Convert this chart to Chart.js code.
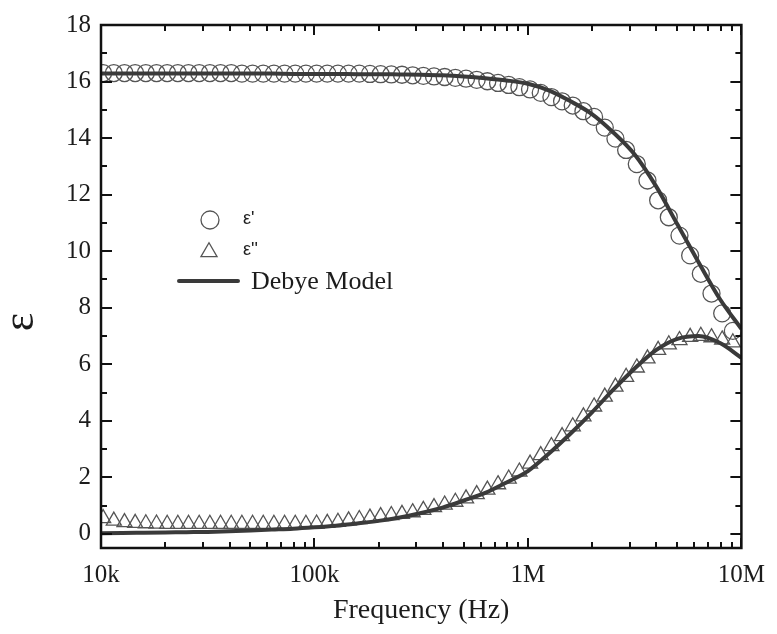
<!DOCTYPE html>
<html>
<head>
<meta charset="utf-8">
<title>Dielectric permittivity - Debye fit</title>
<script src="https://cdn.jsdelivr.net/npm/chart.js@4.4.1/dist/chart.umd.min.js"></script>
<style>
    html, body { margin: 0; padding: 0; background: #ffffff; }
    #wrap { width: 777px; height: 634px; }
</style>
</head>
<body>
<div id="wrap"><canvas id="chart" width="777" height="634"></canvas></div>
<script>
// measured points (20 per decade)
const freqHz = [
    10233, 11482, 12882, 14454, 16218, 18197, 20417, 22909, 25704, 28840,
    32359, 36308, 40738, 45709, 51286, 57544, 64565, 72444, 81283, 91201,
    102329, 114815, 128825, 144544, 162181, 181970, 204174, 229087, 257040, 288403,
    323594, 363078, 407380, 457088, 512861, 575440, 645654, 724436, 812831, 912011,
    1023293, 1148154, 1288250, 1445440, 1621810, 1819701, 2041738, 2290868, 2570396, 2884032,
    3235937, 3630781, 4073803, 4570882, 5128614, 5754399, 6456542, 7244360, 8128305, 9120108
];

const epsReal = [
    16.3, 16.3, 16.3, 16.3, 16.3, 16.3, 16.3, 16.3, 16.3, 16.3,
    16.3, 16.3, 16.3, 16.28, 16.28, 16.28, 16.28, 16.28, 16.28, 16.28,
    16.28, 16.28, 16.28, 16.28, 16.28, 16.27, 16.26, 16.25, 16.24, 16.22,
    16.2, 16.18, 16.16, 16.13, 16.1, 16.06, 16.01, 15.95, 15.88, 15.8,
    15.72, 15.6, 15.45, 15.3, 15.15, 14.95, 14.75, 14.37, 13.98, 13.58,
    13.08, 12.5, 11.8, 11.2, 10.55, 9.85, 9.2, 8.5, 7.8, 7.18
];

const epsImag = [
    0.55, 0.46, 0.41, 0.38, 0.37, 0.36, 0.35, 0.35, 0.35, 0.35,
    0.35, 0.35, 0.35, 0.35, 0.35, 0.35, 0.35, 0.35, 0.35, 0.35,
    0.36, 0.38, 0.42, 0.47, 0.52, 0.57, 0.62, 0.66, 0.7, 0.76,
    0.84, 0.94, 1.03, 1.13, 1.25, 1.4, 1.56, 1.75, 1.95, 2.2,
    2.48, 2.78, 3.1, 3.45, 3.8, 4.15, 4.5, 4.85, 5.2, 5.55,
    5.88, 6.2, 6.5, 6.7, 6.85, 6.96, 7.0, 6.95, 6.87, 6.77
];

// Debye model curve (10 per decade)
const modelFreqHz = [
    10000, 12589, 15849, 19953, 25119, 31623, 39811, 50119, 63096, 79433,
    100000, 125893, 158489, 199526, 251189, 316228, 398107, 501187, 630957, 794328,
    1000000, 1258925, 1584893, 1995262, 2511886, 3162278, 3981072, 5011872, 6309573, 7943282,
    10000000
];

const modelReal = [
    16.28, 16.28, 16.28, 16.28, 16.28, 16.28, 16.28, 16.28, 16.28, 16.27,
    16.27, 16.27, 16.26, 16.26, 16.25, 16.24, 16.22, 16.18, 16.12, 16.04,
    15.92, 15.68, 15.3, 14.85, 14.2, 13.42, 12.3, 10.95, 9.6, 8.3,
    7.25
];

const modelImag = [
    0.02, 0.03, 0.04, 0.05, 0.06, 0.07, 0.09, 0.12, 0.15, 0.18,
    0.23, 0.29, 0.37, 0.46, 0.58, 0.74, 0.93, 1.18, 1.45, 1.82,
    2.22, 2.85, 3.55, 4.3, 5.1, 5.85, 6.5, 6.9, 7.0, 6.75,
    6.23
];

const xTickValues = [1e4, 1e5, 1e6, 1e7];
const xTickLabels = ["10k", "100k", "1M", "10M"];
const xMinorFactors = [2, 3, 4, 5, 6, 7, 8, 9];
const yTickValues = [0, 2, 4, 6, 8, 10, 12, 14, 16, 18];
const yMinorTicks = [1, 3, 5, 7, 9, 11, 13, 15, 17];

const serif = "'Liberation Serif', 'Times New Roman', serif";
const inkColor = "#1c1c1c";
const markerColor = "#555555";
const modelColor = "#3a3a3a";

function toPoints(xs, ys) {
    return xs.map((x, i) => ({ x: x, y: ys[i] }));
}

// inward ticks on all four sides + box frame
const frameAndTicks = {
    id: "frameAndTicks",
    afterDatasetsDraw(chart) {
        const { ctx, chartArea: a, scales: { x, y } } = chart;
        ctx.save();
        ctx.strokeStyle = "#111111";
        ctx.lineWidth = 2;
        ctx.beginPath();

        const xTick = (value, len) => {
            const px = Math.round(x.getPixelForValue(value));
            ctx.moveTo(px, a.bottom);
            ctx.lineTo(px, a.bottom - len);
            ctx.moveTo(px, a.top);
            ctx.lineTo(px, a.top + len);
        };
        const yTick = (value, len) => {
            const py = Math.round(y.getPixelForValue(value));
            ctx.moveTo(a.left, py);
            ctx.lineTo(a.left + len, py);
            ctx.moveTo(a.right, py);
            ctx.lineTo(a.right - len, py);
        };

        xTickValues.forEach((v) => xTick(v, 10));
        xTickValues.slice(0, -1).forEach((decade) => {
            xMinorFactors.forEach((f) => xTick(decade * f, 6));
        });
        yTickValues.forEach((v) => yTick(v, 11));
        yMinorTicks.forEach((v) => yTick(v, 6));
        ctx.stroke();

        ctx.lineWidth = 2.5;
        ctx.strokeRect(a.left, a.top, a.right - a.left, a.bottom - a.top);
        ctx.restore();
    }
};

// legend placed inside plot, and the rotated epsilon axis title
const annotations = {
    id: "annotations",
    afterDraw(chart) {
        const { ctx } = chart;
        ctx.save();

        ctx.strokeStyle = markerColor;
        ctx.lineWidth = 1.3;
        ctx.beginPath();
        ctx.arc(210, 220, 9, 0, Math.PI * 2);
        ctx.stroke();

        ctx.beginPath();
        const r = 9.3;
        ctx.moveTo(209, 252 - r);
        ctx.lineTo(209 + r * Math.sin(2 * Math.PI / 3), 252 + r / 2);
        ctx.lineTo(209 - r * Math.sin(2 * Math.PI / 3), 252 + r / 2);
        ctx.closePath();
        ctx.stroke();

        ctx.strokeStyle = modelColor;
        ctx.lineWidth = 4;
        ctx.lineCap = "round";
        ctx.beginPath();
        ctx.moveTo(179, 281);
        ctx.lineTo(238, 281);
        ctx.stroke();

        ctx.fillStyle = inkColor;
        ctx.textBaseline = "middle";
        ctx.textAlign = "left";
        ctx.font = "18px 'Liberation Sans', Arial, sans-serif";
        ctx.fillText("ε'", 243, 219);
        ctx.fillText("ε''", 243, 250);
        ctx.font = "26px " + serif;
        ctx.fillText("Debye Model", 251, 282);

        ctx.translate(33, 322);
        ctx.rotate(-Math.PI / 2);
        ctx.textAlign = "center";
        ctx.textBaseline = "alphabetic";
        ctx.font = "44px " + serif;
        ctx.fillText("ε", 0, 0);
        ctx.restore();
    }
};

const ctx = document.getElementById("chart");
Chart.defaults.font.family = serif;
Chart.defaults.color = inkColor;

new Chart(ctx, {
    type: "scatter",
    data: {
        datasets: [
            {
                label: "Debye Model (ε')",
                data: toPoints(modelFreqHz, modelReal),
                showLine: true,
                borderColor: modelColor,
                borderWidth: 4,
                pointRadius: 0,
                cubicInterpolationMode: "monotone"
            },
            {
                label: "Debye Model (ε'')",
                data: toPoints(modelFreqHz, modelImag),
                showLine: true,
                borderColor: modelColor,
                borderWidth: 4,
                pointRadius: 0,
                cubicInterpolationMode: "monotone"
            },
            {
                label: "ε'",
                data: toPoints(freqHz, epsReal),
                pointStyle: "circle",
                pointRadius: 8.5,
                borderColor: markerColor,
                backgroundColor: "rgba(0,0,0,0)",
                pointBorderWidth: 1.3
            },
            {
                label: "ε''",
                data: toPoints(freqHz, epsImag),
                pointStyle: "triangle",
                pointRadius: 8.7,
                borderColor: markerColor,
                backgroundColor: "rgba(0,0,0,0)",
                pointBorderWidth: 1.3
            }
        ]
    },
    options: {
        responsive: false,
        animation: false,
        events: [],
        layout: { padding: { top: 23, right: 30, left: 0, bottom: 0 } },
        plugins: {
            legend: { display: false },
            tooltip: { enabled: false }
        },
        scales: {
            x: {
                type: "logarithmic",
                min: 1e4,
                max: 1e7,
                afterBuildTicks: (scale) => {
                    scale.ticks = xTickValues.map((v) => ({ value: v }));
                },
                afterFit: (scale) => { scale.height = 86; },
                ticks: {
                    callback: (value, index) => xTickLabels[index],
                    font: { size: 25 },
                    color: inkColor,
                    padding: 12,
                    maxRotation: 0,
                    autoSkip: false
                },
                grid: { display: false, drawTicks: false },
                border: { display: false },
                title: {
                    display: true,
                    text: "Frequency (Hz)",
                    font: { size: 28 },
                    color: inkColor,
                    padding: { top: 0, bottom: 7 }
                }
            },
            y: {
                min: -0.5,
                max: 18,
                afterBuildTicks: (scale) => {
                    scale.ticks = yTickValues.map((v) => ({ value: v }));
                },
                afterFit: (scale) => { scale.width = 101; },
                ticks: {
                    font: { size: 25 },
                    color: inkColor,
                    padding: 10
                },
                grid: { display: false, drawTicks: false },
                border: { display: false }
            }
        }
    },
    plugins: [frameAndTicks, annotations]
});
</script>
</body>
</html>
